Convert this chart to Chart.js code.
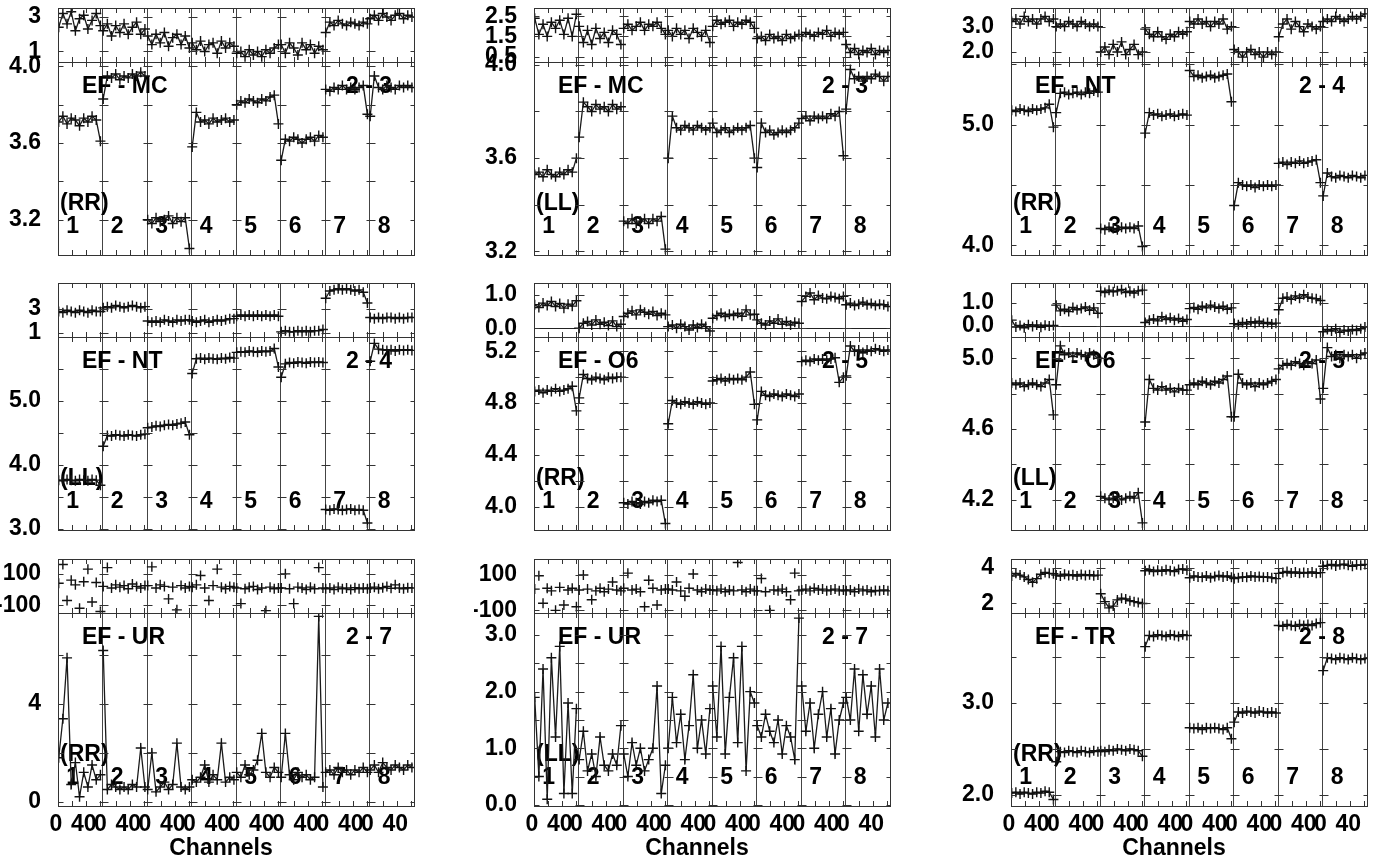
<!DOCTYPE html>
<html><head><meta charset="utf-8">
<script src="https://cdn.jsdelivr.net/npm/chart.js@4.4.1/dist/chart.umd.min.js"></script>
<style>
html,body{margin:0;padding:0;background:#fff;width:1379px;height:862px;overflow:hidden;position:relative}
canvas{position:absolute}
</style></head><body>
<script>
// ---------- categories / ticks ----------
const segments = ['1','2','3','4','5','6','7','8'];
const channels = [1,7,13,19,25,31,37,43,49,55,61];
const segTickLabels = [0, 40];
const minorChannelTicks = [20, 40, 60];
const SEG = 64;

// ---------- EF - MC (RR) ----------
const phaseMC_RR = [
 [2.4,3.2,2.6,3.3,2.2,2.9,3.1,2.3,2.8,3.2,2.5],
 [2.2,2.6,1.9,2.5,2.1,2.6,2.0,2.4,2.7,2.0,2.3],
 [1.9,1.4,2.0,1.5,2.1,1.3,1.8,2.0,1.4,1.9,1.2],
 [1.5,1.1,1.6,1.0,1.4,1.5,0.9,1.6,1.2,1.5,1.3],
 [0.9,1.0,0.7,1.1,0.8,1.0,0.7,1.1,0.9,1.2,1.4],
 [1.4,0.9,1.5,1.2,0.8,1.5,1.1,1.4,0.9,1.3,1.1],
 [2.1,2.7,2.5,2.8,2.6,2.5,2.7,2.6,2.5,2.7,2.6],
 [2.9,3.1,2.8,3.2,3.0,2.8,3.1,3.2,2.9,3.1,3.0]];
const ampMC_RR = [
 [3.71,3.74,3.70,3.73,3.72,3.69,3.73,3.71,3.74,3.72,3.61],
 [3.83,3.95,3.94,3.96,3.93,3.95,3.94,3.96,3.95,3.97,3.95],
 [3.20,3.18,3.21,3.19,3.20,3.22,3.18,3.21,3.19,3.21,3.05],
 [3.58,3.76,3.71,3.72,3.70,3.73,3.71,3.72,3.73,3.71,3.72],
 [3.80,3.82,3.81,3.83,3.82,3.81,3.83,3.82,3.84,3.85,3.70],
 [3.51,3.62,3.61,3.63,3.62,3.60,3.62,3.63,3.61,3.64,3.63],
 [3.88,3.87,3.89,3.88,3.90,3.88,3.89,3.88,3.89,3.90,3.75],
 [3.74,3.95,3.89,3.88,3.90,3.89,3.88,3.90,3.89,3.90,3.89]];

// ---------- EF - MC (LL) ----------
const phaseMC_LL = [
 [2.4,1.6,2.1,1.5,2.2,1.9,2.3,1.6,2.4,1.5,2.6],
 [2.0,1.2,1.8,1.1,1.9,1.4,1.7,1.2,1.8,1.6,1.1],
 [1.9,2.1,1.8,2.0,2.2,1.8,2.1,2.0,2.2,1.9,1.6],
 [1.8,1.5,1.9,1.6,1.8,1.4,1.9,1.7,1.5,1.8,1.2],
 [2.0,2.3,2.1,2.2,2.3,2.0,2.2,2.1,2.3,2.2,1.9],
 [1.4,1.5,1.3,1.6,1.4,1.5,1.3,1.6,1.4,1.5,1.6],
 [1.5,1.7,1.6,1.5,1.7,1.6,1.8,1.5,1.7,1.6,1.7],
 [1.1,0.7,0.9,0.6,0.8,0.7,0.9,0.6,0.8,0.7,0.8]];
const ampMC_LL = [
 [3.53,3.54,3.52,3.55,3.53,3.52,3.54,3.53,3.55,3.54,3.60],
 [3.69,3.84,3.82,3.80,3.83,3.81,3.82,3.80,3.83,3.81,3.82],
 [3.33,3.32,3.34,3.32,3.33,3.34,3.32,3.34,3.33,3.35,3.21],
 [3.60,3.78,3.73,3.72,3.74,3.73,3.72,3.74,3.73,3.72,3.73],
 [3.75,3.71,3.72,3.73,3.71,3.72,3.73,3.72,3.73,3.74,3.60],
 [3.56,3.75,3.71,3.72,3.70,3.71,3.72,3.71,3.72,3.73,3.75],
 [3.77,3.78,3.76,3.78,3.77,3.78,3.77,3.79,3.78,3.80,3.61],
 [3.81,3.98,3.94,3.95,3.93,3.95,3.94,3.96,3.95,3.93,3.95]];

// ---------- EF - NT (RR) ----------
const phaseNT_RR = [
 [3.2,3.3,3.1,3.4,3.2,3.3,3.1,3.3,3.4,3.2,3.3],
 [3.0,3.1,3.0,3.2,3.1,3.0,3.2,3.1,3.0,3.1,3.0],
 [2.0,2.2,1.9,2.3,2.0,2.4,1.9,2.1,2.3,1.9,2.0],
 [2.9,2.7,2.6,2.8,2.6,2.5,2.7,2.6,2.8,2.7,2.8],
 [3.2,3.1,3.3,3.1,3.2,3.0,3.2,3.1,3.3,2.9,3.0],
 [2.1,2.0,1.8,2.0,2.1,1.9,2.0,1.8,2.0,1.9,2.0],
 [2.6,3.1,3.3,2.9,3.2,3.0,2.8,3.1,3.0,2.9,3.0],
 [3.2,3.3,3.2,3.4,3.3,3.2,3.3,3.4,3.3,3.4,3.5]];
const ampNT_RR = [
 [5.12,5.11,5.13,5.12,5.11,5.13,5.12,5.13,5.14,5.17,4.98],
 [5.10,5.26,5.27,5.25,5.26,5.27,5.25,5.27,5.26,5.28,5.27],
 [4.14,4.13,4.15,4.14,4.13,4.15,4.14,4.15,4.14,4.16,3.99],
 [4.93,5.10,5.08,5.09,5.07,5.08,5.09,5.07,5.08,5.09,5.08],
 [5.45,5.40,5.41,5.39,5.40,5.41,5.39,5.40,5.41,5.42,5.19],
 [4.33,4.52,4.50,4.49,4.50,4.48,4.50,4.49,4.50,4.49,4.50],
 [4.68,4.69,4.67,4.69,4.68,4.70,4.68,4.69,4.70,4.71,4.52],
 [4.41,4.60,4.57,4.56,4.58,4.57,4.56,4.58,4.57,4.56,4.58]];

// ---------- EF - NT (LL) ----------
const phaseNT_LL = [
 [2.8,2.7,2.9,2.8,2.7,2.9,2.8,2.7,2.9,2.8,2.8],
 [3.1,3.2,3.1,3.3,3.2,3.1,3.2,3.3,3.2,3.1,3.2],
 [2.0,1.9,2.0,1.9,2.1,2.0,1.9,2.1,2.0,2.1,2.1],
 [2.0,1.9,2.0,2.1,1.9,2.0,2.1,2.0,2.1,2.2,2.2],
 [2.4,2.5,2.4,2.5,2.4,2.5,2.4,2.5,2.4,2.5,2.4],
 [1.1,1.2,1.1,1.1,1.2,1.1,1.2,1.1,1.2,1.2,1.3],
 [3.9,4.5,4.6,4.7,4.6,4.7,4.6,4.5,4.6,4.4,3.5],
 [2.3,2.2,2.3,2.2,2.3,2.3,2.2,2.3,2.2,2.3,2.3]];
const ampNT_LL = [
 [3.76,3.75,3.77,3.76,3.75,3.77,3.76,3.75,3.77,3.76,3.68],
 [4.29,4.46,4.45,4.47,4.46,4.45,4.47,4.46,4.45,4.47,4.48],
 [4.58,4.59,4.61,4.60,4.62,4.63,4.62,4.64,4.65,4.67,4.47],
 [5.43,5.66,5.67,5.65,5.67,5.66,5.65,5.67,5.66,5.68,5.67],
 [5.76,5.77,5.76,5.78,5.77,5.76,5.78,5.77,5.78,5.82,5.53],
 [5.37,5.58,5.60,5.59,5.61,5.60,5.59,5.61,5.60,5.61,5.60],
 [3.30,3.29,3.31,3.30,3.29,3.30,3.31,3.29,3.30,3.29,3.09],
 [5.62,5.90,5.81,5.80,5.79,5.80,5.78,5.80,5.79,5.80,5.79]];

// ---------- EF - O6 (RR) ----------
const phaseO6_RR = [
 [0.70,0.62,0.75,0.68,0.80,0.65,0.74,0.60,0.72,0.66,0.82],
 [0.00,0.15,0.20,0.10,0.25,0.12,0.18,0.08,0.22,0.05,0.12],
 [0.35,0.45,0.52,0.40,0.55,0.48,0.42,0.50,0.38,0.45,0.40],
 [0.05,0.10,0.00,0.12,0.05,-0.05,0.10,0.02,0.12,0.05,-0.08],
 [0.30,0.38,0.45,0.35,0.42,0.38,0.45,0.36,0.55,0.40,0.42],
 [0.25,0.15,0.10,0.22,0.15,0.28,0.12,0.20,0.10,0.18,0.15],
 [0.80,0.95,1.05,0.85,0.98,0.90,0.88,0.95,0.92,0.88,0.95],
 [0.70,0.75,0.68,0.72,0.78,0.70,0.74,0.68,0.72,0.70,0.65]];
const ampO6_RR = [
 [4.89,4.90,4.88,4.90,4.89,4.91,4.89,4.90,4.91,4.93,4.74],
 [4.84,5.02,4.99,4.98,5.00,4.99,4.98,5.00,4.99,5.00,5.00],
 [4.03,4.02,4.04,4.03,4.02,4.04,4.03,4.05,4.04,4.05,3.87],
 [4.64,4.82,4.80,4.79,4.81,4.80,4.79,4.81,4.80,4.79,4.80],
 [4.97,4.98,4.99,4.97,4.99,4.98,4.99,4.98,5.00,5.04,4.79],
 [4.67,4.89,4.86,4.85,4.87,4.86,4.85,4.87,4.86,4.85,4.87],
 [5.12,5.13,5.12,5.14,5.13,5.14,5.13,5.14,5.15,4.96,5.00],
 [5.01,5.24,5.20,5.21,5.19,5.21,5.20,5.22,5.21,5.20,5.21]];

// ---------- EF - O6 (LL) ----------
const phaseO6_LL = [
 [0.25,-0.05,0.02,-0.08,0.05,-0.03,0.04,-0.06,0.03,0.00,0.02],
 [0.90,0.65,0.72,0.62,0.80,0.70,0.75,0.82,0.68,0.78,0.55],
 [1.50,1.45,1.55,1.48,1.52,1.58,1.45,1.50,1.42,1.52,1.55],
 [0.15,0.25,0.30,0.22,0.40,0.28,0.35,0.25,0.32,0.20,0.28],
 [0.75,0.80,0.72,0.85,0.78,0.90,0.82,0.76,0.85,0.72,0.78],
 [0.10,0.05,0.15,0.08,0.18,0.12,0.20,0.10,0.15,0.08,0.12],
 [0.70,1.20,1.25,1.15,1.30,1.20,1.35,1.25,1.20,1.18,1.10],
 [-0.25,-0.15,-0.22,-0.12,-0.28,-0.18,-0.22,-0.15,-0.20,-0.12,-0.05]];
const ampO6_LL = [
 [4.86,4.85,4.86,4.84,4.85,4.86,4.85,4.84,4.86,4.88,4.68],
 [4.85,5.07,5.02,5.03,5.01,5.03,5.02,5.01,5.03,5.02,5.00],
 [4.22,4.21,4.20,4.21,4.22,4.20,4.21,4.22,4.21,4.24,4.07],
 [4.64,4.88,4.83,4.82,4.84,4.82,4.83,4.81,4.83,4.82,4.82],
 [4.85,4.86,4.85,4.87,4.86,4.85,4.87,4.86,4.88,4.90,4.67],
 [4.67,4.91,4.86,4.85,4.86,4.84,4.86,4.85,4.86,4.87,4.88],
 [4.94,4.96,4.97,4.96,4.98,4.97,4.96,4.98,4.97,4.99,4.77],
 [4.83,5.06,5.01,5.02,5.00,5.02,5.01,5.02,5.00,5.02,5.03]];

// ---------- EF - UR (RR) ----------
const phaseUR_RR = [
 [40,160,-70,60,30,-120,50,130,-80,45,-140],
 [20,140,10,30,15,25,5,35,20,10,25],
 [25,145,10,30,20,-60,15,-130,25,10,20],
 [15,30,90,10,-70,25,130,15,5,20,15],
 [10,-90,5,15,20,0,10,-135,15,5,10],
 [10,100,5,-90,15,10,0,15,5,140,10],
 [5,10,0,15,5,10,0,12,5,10,5],
 [10,15,5,12,20,8,30,10,5,12,10]];
const ampUR_RR = [
 [1.8,3.4,5.9,0.7,1.6,0.2,1.2,0.6,1.5,0.9,1.1],
 [6.2,0.5,0.7,0.6,0.5,0.6,0.5,0.7,0.6,2.2,0.6],
 [0.5,2.0,0.4,0.6,0.8,0.5,0.7,2.4,0.6,0.5,0.6],
 [0.9,0.8,1.0,1.5,0.8,1.1,0.9,2.4,0.8,1.0,0.9],
 [1.2,1.0,1.5,1.1,1.3,1.7,2.8,1.2,1.0,1.4,1.2],
 [1.0,2.8,1.1,0.9,1.2,1.0,1.1,0.9,1.0,7.6,0.6],
 [1.2,1.3,1.1,1.4,1.2,1.3,1.1,1.3,1.2,1.4,1.2],
 [1.3,1.5,1.2,1.6,1.4,1.3,1.5,1.4,1.3,1.5,1.4]];

// ---------- EF - UR (LL) ----------
const phaseUR_LL = [
 [20,95,-60,25,10,-100,30,-70,15,25,-80],
 [15,100,20,-40,10,25,5,20,60,15,10],
 [25,110,15,20,5,-80,70,25,-70,15,20],
 [20,15,60,10,-20,25,105,15,5,20,15],
 [15,10,20,5,15,10,170,15,5,20,10],
 [10,80,5,-100,15,10,20,5,-40,110,10],
 [15,20,10,25,15,20,10,15,20,10,15],
 [10,15,5,20,10,15,5,12,10,15,10]];
const ampUR_LL = [
 [1.9,0.5,2.4,0.1,2.6,1.2,2.8,0.2,1.8,0.2,1.7],
 [0.8,1.3,0.6,0.9,0.5,1.2,0.7,0.6,0.9,0.7,1.4],
 [0.9,0.5,1.1,0.7,1.0,0.6,0.8,1.0,2.1,0.2,0.7],
 [1.0,1.9,1.1,1.6,0.8,1.4,2.3,1.0,1.5,0.9,1.7],
 [2.1,1.2,2.8,0.9,1.9,2.6,1.1,2.8,0.6,2.0,1.8],
 [1.4,1.2,1.6,1.3,1.1,1.5,0.9,1.4,1.2,0.8,3.3],
 [2.1,1.3,1.8,1.0,1.6,2.0,1.2,1.7,0.9,1.5,1.8],
 [1.9,1.5,2.4,1.3,2.3,1.6,2.1,1.2,2.4,1.5,1.8]];

// ---------- EF - TR (RR) ----------
const phaseTR_RR = [
 [3.55,3.70,3.60,3.50,3.35,3.20,3.40,3.65,3.75,3.70,3.68],
 [3.60,3.55,3.65,3.58,3.62,3.55,3.64,3.58,3.62,3.56,3.60],
 [2.55,2.10,1.75,1.85,2.20,2.30,2.25,2.15,2.10,2.05,2.00],
 [3.85,3.90,3.80,3.88,3.82,3.90,3.85,3.80,3.92,3.95,3.88],
 [3.45,3.55,3.50,3.48,3.55,3.45,3.52,3.58,3.50,3.55,3.48],
 [3.40,3.45,3.50,3.48,3.55,3.50,3.52,3.48,3.50,3.45,3.40],
 [3.70,3.75,3.80,3.72,3.78,3.70,3.75,3.72,3.78,3.70,3.74],
 [4.10,4.15,4.20,4.12,4.18,4.22,4.15,4.10,4.18,4.15,4.20]];
const ampTR_RR = [
 [2.02,2.03,2.01,2.03,2.02,2.01,2.03,2.02,2.04,2.03,1.95],
 [2.36,2.47,2.46,2.48,2.47,2.46,2.48,2.47,2.46,2.48,2.47],
 [2.48,2.47,2.49,2.48,2.50,2.49,2.48,2.50,2.49,2.48,2.42],
 [3.61,3.73,3.72,3.74,3.73,3.72,3.74,3.73,3.72,3.74,3.73],
 [2.73,2.72,2.73,2.71,2.73,2.72,2.73,2.72,2.71,2.73,2.61],
 [2.79,2.90,2.89,2.91,2.90,2.89,2.91,2.90,2.89,2.90,2.89],
 [3.84,3.83,3.85,3.84,3.83,3.85,3.84,3.85,3.84,3.86,3.87],
 [3.35,3.49,3.48,3.47,3.49,3.48,3.47,3.49,3.48,3.47,3.48]];

// ---------- axis tick values ----------
const tk = {
 pMC_RR:[1,3], aMC_RR:[3.2,3.4,3.6,3.8,4.0], aMC_RR_lab:[3.2,3.6,4.0],
 pMC_LL:[0.5,1.5,2.5], aMC_LL:[3.2,3.4,3.6,3.8,4.0], aMC_LL_lab:[3.2,3.6,4.0],
 pNT_RR:[2,3], aNT_RR:[4.0,4.5,5.0,5.5], aNT_RR_lab:[4.0,5.0],
 pNT_LL:[1,3], aNT_LL:[3,3.5,4,4.5,5,5.5,6], aNT_LL_lab:[3,4,5],
 pO6_RR:[0,1], aO6_RR:[4.0,4.2,4.4,4.6,4.8,5.0,5.2], aO6_RR_lab:[4.0,4.4,4.8,5.2],
 pO6_LL:[0,1], aO6_LL:[4.2,4.4,4.6,4.8,5.0], aO6_LL_lab:[4.2,4.6,5.0],
 pUR_RR:[-100,100], aUR_RR:[0,2,4,6], aUR_RR_lab:[0,4],
 pUR_LL:[-100,100], aUR_LL:[0,0.5,1,1.5,2,2.5,3], aUR_LL_lab:[0,1,2,3],
 pTR_RR:[2,4], aTR_RR:[2,2.5,3,3.5], aTR_RR_lab:[2,3]
};

const panels = [
 {r:0,c:0,title:'EF - MC',bl:'2 - 3',pol:'(RR)',ph:phaseMC_RR,am:ampMC_RR,pr:[0.39,3.52],pt:tk.pMC_RR,pd:0,ar:[3.016,4.023],at:tk.aMC_RR,al:tk.aMC_RR_lab,ad:1},
 {r:0,c:1,title:'EF - MC',bl:'2 - 3',pol:'(LL)',ph:phaseMC_LL,am:ampMC_LL,pr:[0.23,2.91],pt:tk.pMC_LL,pd:1,ar:[3.185,4.012],at:tk.aMC_LL,al:tk.aMC_LL_lab,ad:1},
 {r:0,c:2,title:'EF - NT',bl:'2 - 4',pol:'(RR)',ph:phaseNT_RR,am:ampNT_RR,pr:[1.61,3.73],pt:tk.pNT_RR,pd:1,ar:[3.92,5.52],at:tk.aNT_RR,al:tk.aNT_RR_lab,ad:1},
 {r:1,c:0,title:'EF - NT',bl:'2 - 4',pol:'(LL)',ph:phaseNT_LL,am:ampNT_LL,pr:[0.67,5.17],pt:tk.pNT_LL,pd:0,ar:[2.98,6.0],at:tk.aNT_LL,al:tk.aNT_LL_lab,ad:1},
 {r:1,c:1,title:'EF - O6',bl:'2 - 5',pol:'(RR)',ph:phaseO6_RR,am:ampO6_RR,pr:[-0.26,1.35],pt:tk.pO6_RR,pd:1,ar:[3.82,5.31],at:tk.aO6_RR,al:tk.aO6_RR_lab,ad:1,zero:true},
 {r:1,c:2,title:'EF - O6',bl:'2 - 5',pol:'(LL)',ph:phaseO6_LL,am:ampO6_LL,pr:[-0.48,1.86],pt:tk.pO6_LL,pd:1,ar:[4.03,5.12],at:tk.aO6_LL,al:tk.aO6_LL_lab,ad:1,zero:true},
 {r:2,c:0,title:'EF - UR',bl:'2 - 7',pol:'(RR)',ph:phaseUR_RR,am:ampUR_RR,pr:[-150,195],pt:tk.pUR_RR,pd:0,ar:[-0.18,7.74],at:tk.aUR_RR,al:tk.aUR_RR_lab,ad:0,noPhLine:true},
 {r:2,c:1,title:'EF - UR',bl:'2 - 7',pol:'(LL)',ph:phaseUR_LL,am:ampUR_LL,pr:[-115,190],pt:tk.pUR_LL,pd:0,ar:[-0.02,3.39],at:tk.aUR_LL,al:tk.aUR_LL_lab,ad:1,noPhLine:true},
 {r:2,c:2,title:'EF - TR',bl:'2 - 8',pol:'(RR)',ph:phaseTR_RR,am:ampTR_RR,pr:[1.46,4.51],pt:tk.pTR_RR,pd:0,ar:[1.88,3.975],at:tk.aTR_RR,al:tk.aTR_RR_lab,ad:1}
];

// ---------- layout ----------
const colLeft = [58, 534, 1011];
const rowTop = [8, 283, 559];
const plotW = 356, phaseH = 54, ampH = 193;
const AX = 60, PAD = 16, XAX = 46;
const FAMILY = '"Liberation Sans", Arial, sans-serif';
const FONT = 'bold 23px ' + FAMILY;

const framePlugin = {
  id: 'frame',
  beforeDatasetsDraw(chart) {
    const o = chart.options.plugins.frame;
    const ctx = chart.ctx, a = chart.chartArea, x = chart.scales.x, y = chart.scales.y;
    ctx.save();
    if (o.zero) {
      ctx.strokeStyle = '#222'; ctx.lineWidth = 1;
      const yy = Math.round(y.getPixelForValue(0)) + 0.5;
      ctx.beginPath(); ctx.moveTo(a.left, yy); ctx.lineTo(a.right, yy); ctx.stroke();
    }
    if (o.texts) {
      ctx.fillStyle = '#000'; ctx.font = FONT; ctx.textBaseline = 'middle';
      ctx.textAlign = 'left'; ctx.fillText(o.title, a.left + 24, a.top + 25);
      ctx.textAlign = 'right'; ctx.fillText(o.bl, a.right - 22, a.top + 25);
      ctx.textAlign = 'left'; ctx.fillText(o.pol, a.left + 2, a.bottom - 51);
      ctx.textAlign = 'center';
      segments.forEach((s, i) => ctx.fillText(s, x.getPixelForValue(i * SEG + 21), a.bottom - 28));
    }
    ctx.restore();
  },
  afterDraw(chart) {
    const o = chart.options.plugins.frame;
    const ctx = chart.ctx, a = chart.chartArea, x = chart.scales.x, y = chart.scales.y;
    ctx.save();
    ctx.strokeStyle = '#333'; ctx.lineWidth = 1;
    ctx.strokeRect(Math.round(a.left) + 0.5, Math.round(a.top) + 0.5, Math.round(a.right - a.left), Math.round(a.bottom - a.top));
    ctx.beginPath();
    y.ticks.forEach(t => {
      const py = Math.round(y.getPixelForValue(t.value)) + 0.5;
      for (let k = 0; k <= segments.length; k++) {
        const px = Math.round(x.getPixelForValue(k * SEG)) + 0.5;
        const l = k === 0 ? 0 : 4, r = k === segments.length ? 0 : 5;
        ctx.moveTo(px - l, py); ctx.lineTo(px + r, py);
      }
    });
    for (let k = 0; k < segments.length; k++) {
      minorChannelTicks.forEach(cv => {
        const px = Math.round(x.getPixelForValue(k * SEG + cv)) + 0.5;
        ctx.moveTo(px, a.top); ctx.lineTo(px, a.top + 5);
        ctx.moveTo(px, a.bottom); ctx.lineTo(px, a.bottom - 5);
      });
    }
    ctx.stroke();
    if (o.xtitle) {
      ctx.fillStyle = '#000'; ctx.font = FONT; ctx.textAlign = 'center'; ctx.textBaseline = 'middle';
      ctx.fillText(o.xtitle, (a.left + a.right) / 2 - 15, a.bottom + 43);
    }
    ctx.restore();
  }
};

function buildData(arr) {
  const pts = [];
  arr.forEach((seg, s) => {
    seg.forEach((v, i) => pts.push({x: s * SEG + channels[i], y: v}));
    pts.push({x: s * SEG + SEG - 0.5, y: null});
  });
  return pts;
}

function zeroPad(sc) { sc.paddingTop = 0; sc.paddingBottom = 0; sc.paddingLeft = 0; sc.paddingRight = 0; }

function makeChart(left, top, plotH, data, range, ticks, labels, dec, bottomAxis, showLine, pluginOpts) {
  const cv = document.createElement('canvas');
  const w = AX + plotW + PAD;
  const h = PAD + plotH + (bottomAxis ? XAX : 0) + PAD;
  cv.width = w; cv.height = h;
  cv.style.left = (left - AX) + 'px'; cv.style.top = (top - PAD) + 'px';
  cv.style.width = w + 'px'; cv.style.height = h + 'px';
  document.body.appendChild(cv);
  new Chart(cv, {
    type: 'line',
    data: { datasets: [{
      data: buildData(data),
      showLine: showLine,
      borderColor: '#1a1a1a', borderWidth: 1.3,
      pointStyle: 'cross', pointRadius: 5, pointBorderWidth: 1.4,
      pointBorderColor: '#111', pointBackgroundColor: '#111',
      spanGaps: false, tension: 0
    }]},
    options: {
      responsive: false, animation: false, devicePixelRatio: 1,
      layout: { padding: { left: 0, right: PAD, top: PAD, bottom: PAD } },
      plugins: { legend: {display: false}, tooltip: {enabled: false}, frame: pluginOpts },
      scales: {
        x: {
          type: 'linear', min: 0, max: SEG * segments.length,
          afterBuildTicks: sc => {
            const t = [];
            segments.forEach((s, k) => segTickLabels.forEach(v => t.push({value: k * SEG + v})));
            sc.ticks = t;
          },
          afterFit: sc => { sc.height = bottomAxis ? XAX : 0; zeroPad(sc); },
          grid: {
            drawTicks: false, lineWidth: 1,
            color: c => (c.tick && c.tick.value % SEG === 0) ? '#444' : 'rgba(0,0,0,0)'
          },
          border: { display: false },
          ticks: {
            display: bottomAxis, autoSkip: false, maxRotation: 0, minRotation: 0,
            padding: 5, labelOffset: -2, color: '#000',
            font: { family: FAMILY, size: 23, weight: 'bold' },
            callback: v => String(v % SEG)
          }
        },
        y: {
          min: range[0], max: range[1],
          afterBuildTicks: sc => { sc.ticks = ticks.map(v => ({value: v})); },
          afterFit: sc => { sc.width = AX; zeroPad(sc); },
          grid: { display: false },
          border: { display: false },
          ticks: {
            autoSkip: false, padding: 9, color: '#000',
            font: { family: FAMILY, size: 23, weight: 'bold' },
            callback: v => labels.includes(v) ? v.toFixed(dec) : ''
          }
        }
      }
    },
    plugins: [framePlugin]
  });
}

panels.forEach(p => {
  const L = colLeft[p.c], T = rowTop[p.r];
  makeChart(L, T, phaseH, p.ph, p.pr, p.pt, p.pt, p.pd, false, !p.noPhLine, {zero: !!p.zero});
  makeChart(L, T + phaseH, ampH, p.am, p.ar, p.at, p.al, p.ad, p.r === 2, true,
    {texts: true, title: p.title, bl: p.bl, pol: p.pol, xtitle: p.r === 2 ? 'Channels' : null});
});
</script>
</body></html>
